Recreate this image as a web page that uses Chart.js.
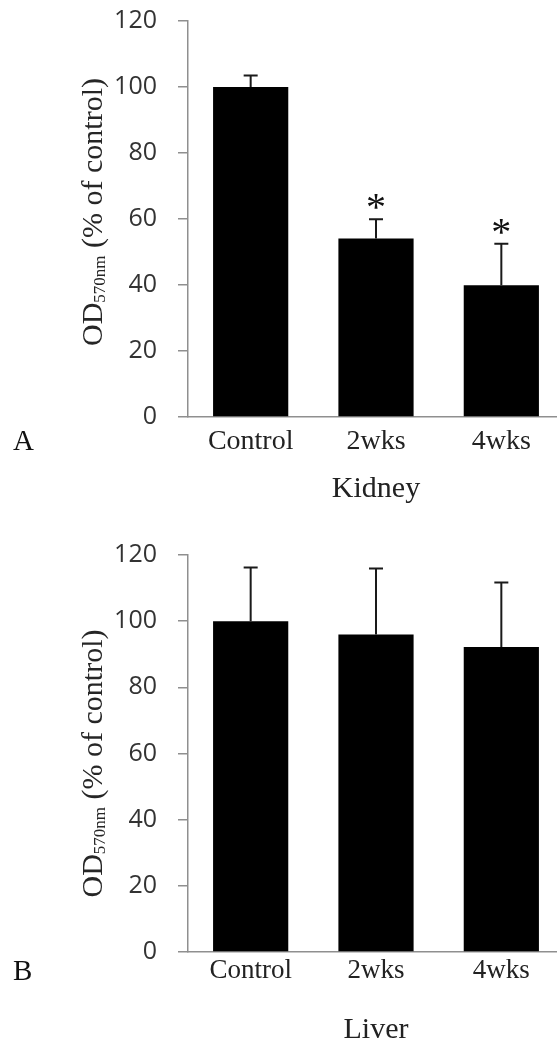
<!DOCTYPE html>
<html>
<head>
<meta charset="utf-8">
<script src="https://cdn.jsdelivr.net/npm/chart.js@4.4.0/dist/chart.umd.min.js"></script>
<style>
  html, body { margin: 0; padding: 0; background: #fff; overflow: hidden; }
  body { width: 557px; height: 1045px; }
  canvas { display: block; }
</style>
</head>
<body>
<canvas id="kidneyChart" width="566" height="520"></canvas>
<canvas id="liverChart" width="566" height="525"></canvas>
<script>
const groups = ['Control', '2wks', '4wks'];

const kidneyMeans = [100, 54.1, 39.9];
const kidneyErrors = [3.5, 5.8, 12.6];
const kidneyMarks = ['', '*', '*'];

const liverMeans = [100, 96, 92.2];
const liverErrors = [16.2, 19.9, 19.5];
const liverMarks = ['', '', ''];

const yMin = 0;
const yMax = 120;
const yStep = 20;

const axisGray = '#8f8f8f';
const serif = '"Liberation Serif", "Times New Roman", serif';

// upward error bars + significance stars, placed with the y scale
function errorBars(means, errors, marks) {
  return {
    id: 'errorBars',
    afterDatasetsDraw(chart) {
      const ctx = chart.ctx;
      const y = chart.scales.y;
      const bars = chart.getDatasetMeta(0).data;
      ctx.save();
      ctx.strokeStyle = '#1a1a1a';
      ctx.lineWidth = 2;
      bars.forEach((bar, i) => {
        const top = y.getPixelForValue(means[i] + errors[i]);
        ctx.beginPath();
        ctx.moveTo(bar.x, bar.y);
        ctx.lineTo(bar.x, top);
        ctx.moveTo(bar.x - 7, top);
        ctx.lineTo(bar.x + 7, top);
        ctx.stroke();
        if (marks[i]) {
          ctx.fillStyle = '#111';
          ctx.font = '40px ' + serif;
          ctx.textAlign = 'center';
          ctx.textBaseline = 'alphabetic';
          ctx.fillText(marks[i], bar.x, top + 1);
        }
      });
      ctx.restore();
    }
  };
}

// rotated y title with subscript, and the panel letter
function sideText(letter, letterY, titleShift) {
  return {
    id: 'sideText',
    afterDraw(chart) {
      const ctx = chart.ctx;
      const area = chart.chartArea;
      const cy = (area.top + area.bottom) / 2 + titleShift;
      const main1 = 'OD', sub = '570nm', main2 = ' (% of control)';
      ctx.save();
      ctx.fillStyle = '#262626';
      ctx.textBaseline = 'alphabetic';
      ctx.textAlign = 'left';
      ctx.font = '30px ' + serif;
      const w1 = ctx.measureText(main1).width;
      const w3 = ctx.measureText(main2).width;
      ctx.font = '17px ' + serif;
      const w2 = ctx.measureText(sub).width;
      const total = w1 + w2 + w3;
      ctx.translate(102, cy);
      ctx.rotate(-Math.PI / 2);
      let x = -total / 2;
      ctx.font = '30px ' + serif;
      ctx.fillText(main1, x, 0);
      x += w1;
      ctx.font = '17px ' + serif;
      ctx.fillText(sub, x, 3);
      x += w2;
      ctx.font = '30px ' + serif;
      ctx.fillText(main2, x, 0);
      ctx.restore();

      ctx.save();
      ctx.fillStyle = '#111';
      ctx.font = '29px ' + serif;
      ctx.textBaseline = 'alphabetic';
      ctx.fillText(letter, 13, letterY);
      ctx.restore();
    }
  };
}

function makeChart(id, cfg) {
  new Chart(document.getElementById(id), {
    type: 'bar',
    data: {
      labels: groups,
      datasets: [{
        data: cfg.means,
        backgroundColor: '#000',
        borderWidth: 0,
        barPercentage: 0.6,
        categoryPercentage: 1
      }]
    },
    options: {
      responsive: false,
      animation: false,
      layout: { padding: { top: cfg.top, right: 2, left: 0, bottom: 0 } },
      plugins: { legend: { display: false }, tooltip: { enabled: false } },
      scales: {
        x: {
          afterFit: (scale) => { scale.height = cfg.xHeight; },
          grid: { display: false, drawTicks: false },
          border: { display: true, color: axisGray, width: 1.5 },
          ticks: {
            color: '#222',
            font: { family: serif, size: cfg.tickSize },
            padding: cfg.tickPad,
            maxRotation: 0
          },
          title: {
            display: true,
            text: cfg.name,
            color: '#222',
            font: { family: serif, size: 30, lineHeight: 1 },
            padding: { top: 0, bottom: cfg.titlePad }
          }
        },
        y: {
          min: yMin,
          max: yMax,
          afterFit: (scale) => {
            scale.width = 188;
            scale.paddingTop = 0;
            scale.paddingBottom = 0;
          },
          grid: {
            display: true,
            drawOnChartArea: false,
            drawTicks: true,
            tickLength: 10,
            color: axisGray,
            lineWidth: 1.5
          },
          border: { display: true, color: axisGray, width: 1.5 },
          ticks: {
            stepSize: yStep,
            color: '#333',
            font: { family: '"Open Sans", sans-serif', size: 25 },
            padding: 21
          }
        }
      }
    },
    plugins: [errorBars(cfg.means, cfg.errors, cfg.marks), sideText(cfg.letter, cfg.letterY, cfg.titleShift)]
  });
}

makeChart('kidneyChart', {
  means: kidneyMeans, errors: kidneyErrors, marks: kidneyMarks,
  name: 'Kidney', letter: 'A', letterY: 450, titleShift: -7,
  top: 21, xHeight: 103, tickSize: 28, tickPad: 8, titlePad: 16
});

makeChart('liverChart', {
  means: liverMeans, errors: liverErrors, marks: liverMarks,
  name: 'Liver', letter: 'B', letterY: 460, titleShift: 10,
  top: 35, xHeight: 93, tickSize: 27, tickPad: 3, titlePad: 0
});
</script>
</body>
</html>
